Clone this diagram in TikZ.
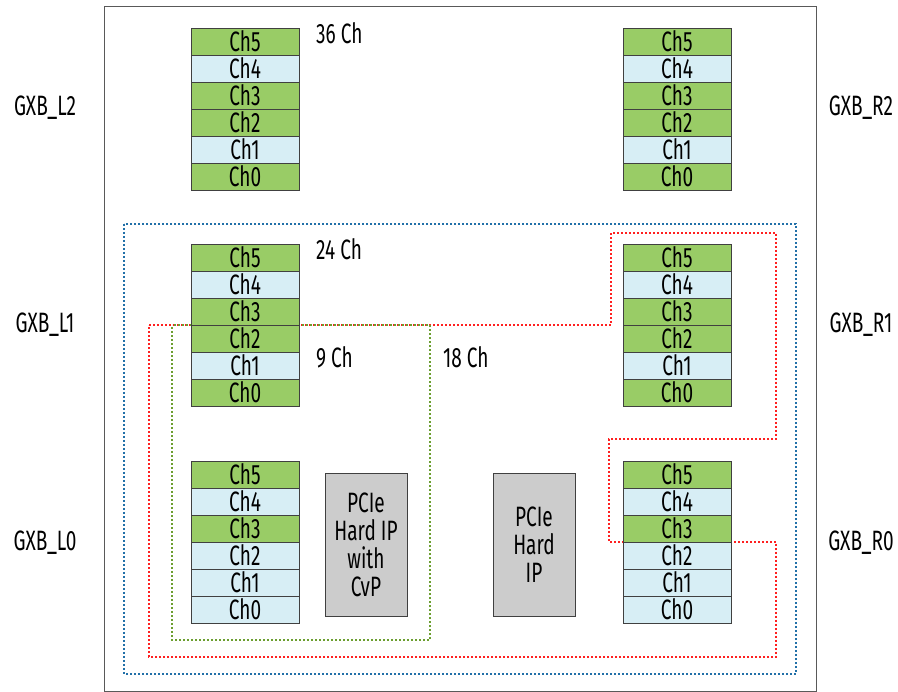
\documentclass[tikz,border=0pt]{standalone}
\usepackage{fontspec}
\setmainfont[FakeStretch=0.68]{Fira Sans}
\usetikzlibrary{positioning}
\definecolor{chgreen}{HTML}{99CC66}
\definecolor{chblue}{HTML}{D7EEF5}
\definecolor{ipgray}{HTML}{CCCCCC}
\definecolor{loopred}{HTML}{FF2020}
\definecolor{loopgreen}{HTML}{6C9E30}
\definecolor{loopblue}{HTML}{2270A8}

\begin{document}
\begin{tikzpicture}[x=1pt,y=-1pt,
    chan/.style={draw=black!75,line width=0.9pt,minimum width=108pt,minimum height=27pt,
      inner sep=0pt,font=\fontsize{28}{29}\selectfont},
    hardip/.style={draw=black!75,fill=ipgray,line width=0.9pt,minimum width=82pt,minimum height=143pt,
      inner sep=0pt,align=center,font=\fontsize{28}{28}\selectfont},
    lbl/.style={font=\fontsize{28}{29}\selectfont,inner sep=0pt},
    bound/.style={line width=2pt,dash pattern=on 2pt off 2pt}]
  \useasboundingbox (0,0) rectangle (898,692);
  % device outline
  \draw[black!65,line width=1pt] (104,7) rectangle (816,691);

  % groupings
  \draw[bound,loopblue] (124,224) rectangle (796,674);
  \draw[bound,loopred] (149,325) -- (611,325) -- (611,233) -- (776,233) -- (776,439)
    -- (609,439) -- (609,542) -- (776,542) -- (776,657) -- (149,657) -- cycle;
  \draw[bound,loopgreen,dash phase=2pt] (172,325) rectangle (430,640);

  % transceiver banks
  \foreach \side/\xx in {L/245,R/677}{
    \foreach \c/\up/\low in {5/chgreen/chgreen,4/chblue/chblue,3/chgreen/chgreen,
                             2/chgreen/chblue,1/chblue/chblue,0/chgreen/chblue}{
      \node[chan,fill=\up] (\side2c\c) at ({\xx},{41.5+27*(5-\c)}) {Ch\c};
      \node[chan,fill=\up] (\side1c\c) at ({\xx},{257.5+27*(5-\c)}) {Ch\c};
      \node[chan,fill=\low] (\side0c\c) at ({\xx},{474.5+27*(5-\c)}) {Ch\c};
    }
  }

  % hard IP blocks
  \node[hardip] (pcie0) at (366,545) {PCIe\\Hard IP\\with\\CvP};
  \node[hardip] (pcie1) at (534,545) {PCIe\\Hard\\IP};

  % channel counts
  \node[lbl,anchor=west] (ch36) at (316,33) {36 Ch};
  \node[lbl,anchor=west] (ch24) at (316,249) {24 Ch};
  \node[lbl,anchor=west] (ch9) at (316,357) {9 Ch};
  \node[lbl,anchor=west] (ch18) at (443,357) {18 Ch};

  % bank names
  \node[lbl] (gxbL2) at (45,108) {GXB\_L2};
  \node[lbl] (gxbL1) at (45,325) {GXB\_L1};
  \node[lbl] (gxbL0) at (45,543) {GXB\_L0};
  \node[lbl] (gxbR2) at (861,108) {GXB\_R2};
  \node[lbl] (gxbR1) at (861,325) {GXB\_R1};
  \node[lbl] (gxbR0) at (861,543) {GXB\_R0};
\end{tikzpicture}
\end{document}
